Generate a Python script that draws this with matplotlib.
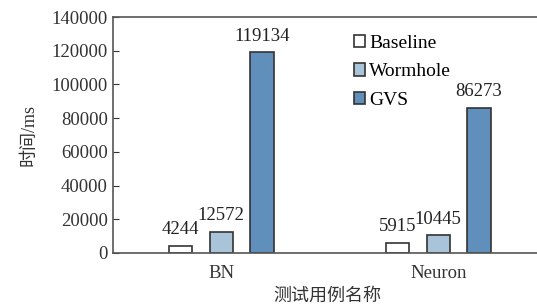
import matplotlib.pyplot as plt
import numpy as np

plt.rcParams['font.family'] = ['Liberation Serif', 'Noto Sans CJK SC']

# data
cases = ["BN", "Neuron"]
series = ["Baseline", "Wormhole", "GVS"]
baseline = [4244, 5915]
wormhole = [12572, 10445]
gvs = [119134, 86273]

colors = ["#ffffff", "#a9c3d9", "#5f8fba"]
values = [baseline, wormhole, gvs]

fig = plt.figure(figsize=(5.37, 3.04), dpi=100)
ax = fig.add_axes([0.210, 0.168, 0.80, 0.776])

x = np.arange(len(cases))
w = 0.107
step = 0.188
for i, (name, vals) in enumerate(zip(series, values)):
    pos = x + (i - 1) * step
    bars = ax.bar(pos, vals, w, color=colors[i], edgecolor="#333333",
                  linewidth=1.2, label=name)
    for b, v in zip(bars, vals):
        ax.text(b.get_x() + b.get_width() / 2, v + 4500, str(v),
                ha="center", va="bottom", fontsize=13.5, color="#222222")

ax.set_xlim(-0.5, 1.48)
ax.set_ylim(0, 140000)
ax.set_yticks(np.arange(0, 140001, 20000))
ax.set_xticks(x)
ax.set_xticklabels(cases)
ax.tick_params(axis="y", direction="in", length=4, labelsize=13.5, colors="#333333")
ax.tick_params(axis="x", length=0, labelsize=13.5, colors="#333333", pad=9)
ax.spines["right"].set_visible(False)
for s in ["left", "bottom", "top"]:
    ax.spines[s].set_color("#555555")
    ax.spines[s].set_linewidth(1.2)

ax.set_ylabel("时间/ms", fontsize=13, color="#333333", labelpad=10)
ax.set_xlabel("测试用例名称", fontsize=13, color="#333333", labelpad=4)

ax.legend(loc="upper left", bbox_to_anchor=(0.52, 1.0), frameon=False,
          fontsize=14, handlelength=0.6, handleheight=0.6, handletextpad=0.2,
          labelspacing=0.6)

fig.savefig("out.png", dpi=100)
